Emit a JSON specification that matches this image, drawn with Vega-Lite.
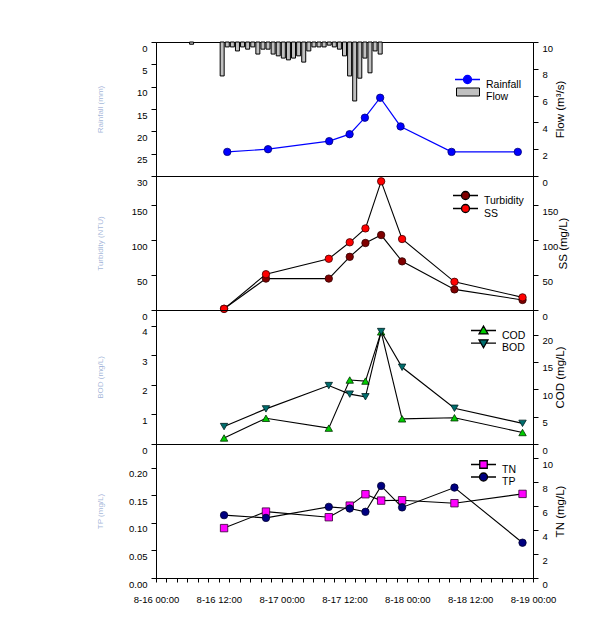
{
  "$schema": "https://vega.github.io/schema/vega-lite/v6.json",
  "padding": {"left": 95, "top": 41, "right": 5, "bottom": 5},
  "background": "white",
  "bounds": "flush",
  "spacing": 0,
  "config": {
    "view": {"stroke": "black", "strokeWidth": 1},
    "axis": {"grid": false, "domainColor": "black", "tickColor": "black", "labelColor": "black", "labelFont": "Liberation Sans", "titleFont": "Liberation Sans", "labelFontSize": 9.5, "titleFontWeight": "normal", "tickSize": 5, "titleFontSize": 11.5, "labelOverlap": false, "labelBound": false},
    "legend": {"labelFont": "Liberation Sans", "labelFontSize": 10.5, "labelColor": "black"}
  },
  "datasets": {
    "wq": [
      {"t": "2020-08-16T13:00", "flow": 1.8, "turb": 1.7, "ss": 1.7, "cod": 1.1, "bod": 0.59, "tn": 4.17, "tp": 0.114},
      {"t": "2020-08-16T21:00", "flow": 2.0, "turb": 45, "ss": 51.3, "cod": 4.7, "bod": 1.19, "tn": 5.55, "tp": 0.109},
      {"t": "2020-08-17T09:00", "flow": 2.6, "turb": 45, "ss": 73.4, "cod": 2.9, "bod": 1.98, "tn": 5.08, "tp": 0.129},
      {"t": "2020-08-17T13:00", "flow": 3.12, "turb": 76.2, "ss": 97, "cod": 11.7, "bod": 1.69, "tn": 6.05, "tp": 0.126},
      {"t": "2020-08-17T16:00", "flow": 4.35, "turb": 96, "ss": 116.9, "cod": 11.5, "bod": 1.6, "tn": 7.0, "tp": 0.12},
      {"t": "2020-08-17T19:00", "flow": 5.84, "turb": 107.4, "ss": 184.4, "cod": 20.5, "bod": 3.81, "tn": 6.47, "tp": 0.167},
      {"t": "2020-08-17T23:00", "flow": 3.7, "turb": 69.7, "ss": 101.7, "cod": 4.6, "bod": 2.6, "tn": 6.5, "tp": 0.128},
      {"t": "2020-08-18T09:00", "flow": 1.8, "turb": 29.5, "ss": 40.4, "cod": 4.8, "bod": 1.21, "tn": 6.25, "tp": 0.164},
      {"t": "2020-08-18T22:00", "flow": 1.8, "turb": 14.4, "ss": 18.1, "cod": 2.1, "bod": 0.7, "tn": 7.03, "tp": 0.064}
    ],
    "rain": [
      {"t": "2020-08-16T06:00", "rain": 0.5},
      {"t": "2020-08-16T12:00", "rain": 7.6},
      {"t": "2020-08-16T13:00", "rain": 1.1},
      {"t": "2020-08-16T14:00", "rain": 1.1},
      {"t": "2020-08-16T15:00", "rain": 2.0},
      {"t": "2020-08-16T16:00", "rain": 1.1},
      {"t": "2020-08-16T17:00", "rain": 1.6},
      {"t": "2020-08-16T18:00", "rain": 1.1},
      {"t": "2020-08-16T19:00", "rain": 2.7},
      {"t": "2020-08-16T20:00", "rain": 1.6},
      {"t": "2020-08-16T21:00", "rain": 1.6},
      {"t": "2020-08-16T22:00", "rain": 2.7},
      {"t": "2020-08-16T23:00", "rain": 3.1},
      {"t": "2020-08-17T00:00", "rain": 3.6},
      {"t": "2020-08-17T01:00", "rain": 4.0},
      {"t": "2020-08-17T02:00", "rain": 3.6},
      {"t": "2020-08-17T03:00", "rain": 3.1},
      {"t": "2020-08-17T04:00", "rain": 4.5},
      {"t": "2020-08-17T05:00", "rain": 2.0},
      {"t": "2020-08-17T06:00", "rain": 1.1},
      {"t": "2020-08-17T07:00", "rain": 1.1},
      {"t": "2020-08-17T08:00", "rain": 1.1},
      {"t": "2020-08-17T09:00", "rain": 0.7},
      {"t": "2020-08-17T10:00", "rain": 1.1},
      {"t": "2020-08-17T11:00", "rain": 1.6},
      {"t": "2020-08-17T12:00", "rain": 3.1},
      {"t": "2020-08-17T13:00", "rain": 7.6},
      {"t": "2020-08-17T14:00", "rain": 13.2},
      {"t": "2020-08-17T15:00", "rain": 8.1},
      {"t": "2020-08-17T16:00", "rain": 3.6},
      {"t": "2020-08-17T17:00", "rain": 6.9},
      {"t": "2020-08-17T18:00", "rain": 2.0},
      {"t": "2020-08-17T19:00", "rain": 2.7}
    ]
  },
  "vconcat": [
    {
      "width": 377, "height": 134,
      "encoding": {"x": {"field": "t", "type": "temporal", "scale": {"domain": ["2020-08-16T00:00", "2020-08-19T00:00"]}, "axis": null}},
      "layer": [
        {
          "data": {"name": "rain"},
          "mark": {"type": "bar", "size": 4, "stroke": "black", "strokeWidth": 1},
          "encoding": {
            "y": {"field": "rain", "type": "quantitative", "scale": {"domain": [0, 30], "reverse": true, "nice": false},
              "axis": {"orient": "left", "values": [0, 5, 10, 15, 20, 25, 30], "format": "d", "tickCount": 50, "labelOverlap": false, "labelBaseline": "top", "labelOffset": 1, "labelPadding": 4, "title": "Rainfall (mm)", "titlePadding": 32, "titleColor": "#2a55a8", "titleOpacity": 0.45, "titleFontSize": 8}},
            "fill": {"datum": "Flow", "scale": {"range": ["#c0c0c0"]},
              "legend": {"orient": "none", "legendX": 299, "legendY": 37, "title": null, "padding": 0, "symbolType": "M-0.92,-0.32H0.92V0.32H-0.92Z", "symbolSize": 625, "labelBaseline": "top", "labelOffset": 5, "symbolStrokeWidth": 1, "symbolStrokeColor": "black"}}
          }
        },
        {
          "data": {"name": "wq"},
          "layer": [
            {"mark": {"type": "line", "color": "#0000ff", "strokeWidth": 1.2},
             "encoding": {"y": {"field": "flow", "type": "quantitative", "scale": {"domain": [0, 10], "nice": false},
               "axis": {"orient": "right", "values": [0, 2, 4, 6, 8, 10], "format": "d", "tickCount": 50, "labelOverlap": false, "labelBaseline": "top", "labelOffset": 1, "labelPadding": 4, "title": "Flow (m³/s)", "titlePadding": 2, "titleAngle": 270, "titleBaseline": "top"}}}},
            {"mark": {"type": "point", "filled": true, "size": 55, "stroke": "#00007a", "strokeWidth": 0.8, "opacity": 1},
             "encoding": {"y": {"field": "flow", "type": "quantitative"},
               "fill": {"datum": "Rainfall", "scale": {"range": ["#0000ff"]},
                 "legend": {"orient": "none", "legendX": 298, "legendY": 24, "title": null, "padding": 0, "symbolType": "M-1,0H-0.32M0.32,0H1M0.32,0A0.32,0.32,0,1,1,-0.32,0A0.32,0.32,0,1,1,0.32,0", "symbolSize": 625, "labelBaseline": "top", "labelOffset": 5, "symbolStrokeWidth": 1.3, "symbolStrokeColor": "#0000ff"}}}}
          ]
        }
      ],
      "resolve": {"scale": {"y": "independent", "fill": "independent"}, "legend": {"fill": "independent"}}
    },
    {
      "width": 377, "height": 134,
      "data": {"name": "wq"},
      "encoding": {"x": {"field": "t", "type": "temporal", "scale": {"domain": ["2020-08-16T00:00", "2020-08-19T00:00"]}, "axis": null}},
      "layer": [
        {"layer": [
          {"mark": {"type": "line", "color": "black", "strokeWidth": 1.1},
           "encoding": {"y": {"field": "turb", "type": "quantitative", "scale": {"domain": [0, 192], "nice": false},
             "axis": {"orient": "left", "values": [0, 50, 100, 150], "format": "d", "tickCount": 50, "labelOverlap": false, "labelBaseline": "top", "labelOffset": 1, "labelPadding": 4, "title": "Turbidity (NTU)", "titlePadding": 27, "titleColor": "#2a55a8", "titleOpacity": 0.45, "titleFontSize": 8}}}},
          {"mark": {"type": "point", "filled": true, "size": 55, "stroke": "#300000", "strokeWidth": 0.8, "opacity": 1},
           "encoding": {"y": {"field": "turb", "type": "quantitative"},
             "fill": {"datum": "Turbidity", "scale": {"range": ["#800000"]},
               "legend": {"orient": "none", "legendX": 296, "legendY": 6, "title": null, "padding": 0, "symbolType": "M-1,0H-0.32M0.32,0H1M0.32,0A0.32,0.32,0,1,1,-0.32,0A0.32,0.32,0,1,1,0.32,0", "symbolSize": 625, "labelBaseline": "top", "labelOffset": 5, "symbolStrokeWidth": 1.3, "symbolStrokeColor": "black"}}}}
        ]},
        {"layer": [
          {"mark": {"type": "line", "color": "black", "strokeWidth": 1.1},
           "encoding": {"y": {"field": "ss", "type": "quantitative", "scale": {"domain": [0, 192], "nice": false},
             "axis": {"orient": "right", "values": [0, 50, 100, 150], "format": "d", "tickCount": 50, "labelOverlap": false, "labelBaseline": "top", "labelOffset": 1, "labelPadding": 4, "title": "SS (mg/L)", "titlePadding": 0, "titleAngle": 270, "titleBaseline": "top"}}}},
          {"mark": {"type": "point", "filled": true, "size": 55, "stroke": "#400000", "strokeWidth": 0.8, "opacity": 1},
           "encoding": {"y": {"field": "ss", "type": "quantitative"},
             "fill": {"datum": "SS", "scale": {"range": ["#ff0000"]},
               "legend": {"orient": "none", "legendX": 296, "legendY": 19, "title": null, "padding": 0, "symbolType": "M-1,0H-0.32M0.32,0H1M0.32,0A0.32,0.32,0,1,1,-0.32,0A0.32,0.32,0,1,1,0.32,0", "symbolSize": 625, "labelBaseline": "top", "labelOffset": 5, "symbolStrokeWidth": 1.3, "symbolStrokeColor": "black"}}}}
        ]}
      ],
      "resolve": {"scale": {"y": "independent", "fill": "independent"}, "legend": {"fill": "independent"}}
    },
    {
      "width": 377, "height": 134,
      "data": {"name": "wq"},
      "encoding": {"x": {"field": "t", "type": "temporal", "scale": {"domain": ["2020-08-16T00:00", "2020-08-19T00:00"]}, "axis": null}},
      "layer": [
        {"layer": [
          {"mark": {"type": "line", "color": "black", "strokeWidth": 1.1},
           "encoding": {"y": {"field": "cod", "type": "quantitative", "scale": {"domain": [0, 24.5], "nice": false},
             "axis": {"orient": "right", "values": [0, 5, 10, 15, 20], "format": "d", "tickCount": 50, "labelOverlap": false, "labelBaseline": "top", "labelOffset": 1, "labelPadding": 4, "title": "COD (mg/L)", "titlePadding": 2, "titleAngle": 270, "titleBaseline": "top"}}}},
          {"mark": {"type": "point", "shape": "triangle-up", "filled": true, "size": 55, "stroke": "#003000", "strokeWidth": 0.8, "opacity": 1},
           "encoding": {"y": {"field": "cod", "type": "quantitative"},
             "fill": {"datum": "COD", "scale": {"range": ["#00cc00"]},
               "legend": {"orient": "none", "legendX": 314, "legendY": 7, "title": null, "padding": 0, "symbolType": "M-1,0H-0.2M0.2,0H1M0,-0.36L0.36,0.27L-0.36,0.27Z", "symbolSize": 625, "labelBaseline": "top", "labelOffset": 5, "symbolStrokeWidth": 1.3, "symbolStrokeColor": "black"}}}}
        ]},
        {"layer": [
          {"mark": {"type": "line", "color": "black", "strokeWidth": 1.1},
           "encoding": {"y": {"field": "bod", "type": "quantitative", "scale": {"domain": [0, 4.54], "nice": false},
             "axis": {"orient": "left", "values": [0, 1, 2, 3, 4], "format": "d", "tickCount": 50, "labelOverlap": false, "labelBaseline": "top", "labelOffset": 1, "labelPadding": 4, "title": "BOD (mg/L)", "titlePadding": 37, "titleColor": "#2a55a8", "titleOpacity": 0.45, "titleFontSize": 8}}}},
          {"mark": {"type": "point", "shape": "triangle-down", "filled": true, "size": 55, "stroke": "#002020", "strokeWidth": 0.8, "opacity": 1},
           "encoding": {"y": {"field": "bod", "type": "quantitative"},
             "fill": {"datum": "BOD", "scale": {"range": ["#006e6e"]},
               "legend": {"orient": "none", "legendX": 314, "legendY": 19.7, "title": null, "padding": 0, "symbolType": "M-1,0H-0.2M0.2,0H1M0,0.36L0.36,-0.27L-0.36,-0.27Z", "symbolSize": 625, "labelBaseline": "top", "labelOffset": 5, "symbolStrokeWidth": 1.3, "symbolStrokeColor": "black"}}}}
        ]}
      ],
      "resolve": {"scale": {"y": "independent", "fill": "independent"}, "legend": {"fill": "independent"}}
    },
    {
      "width": 377, "height": 134,
      "data": {"name": "wq"},
      "encoding": {"x": {"field": "t", "type": "temporal", "scale": {"domain": ["2020-08-16T00:00", "2020-08-19T00:00"]},
        "axis": {"values": ["2020-08-16T00:00", "2020-08-16T02:00", "2020-08-16T04:00", "2020-08-16T06:00", "2020-08-16T08:00", "2020-08-16T10:00", "2020-08-16T12:00", "2020-08-16T14:00", "2020-08-16T16:00", "2020-08-16T18:00", "2020-08-16T20:00", "2020-08-16T22:00", "2020-08-17T00:00", "2020-08-17T02:00", "2020-08-17T04:00", "2020-08-17T06:00", "2020-08-17T08:00", "2020-08-17T10:00", "2020-08-17T12:00", "2020-08-17T14:00", "2020-08-17T16:00", "2020-08-17T18:00", "2020-08-17T20:00", "2020-08-17T22:00", "2020-08-18T00:00", "2020-08-18T02:00", "2020-08-18T04:00", "2020-08-18T06:00", "2020-08-18T08:00", "2020-08-18T10:00", "2020-08-18T12:00", "2020-08-18T14:00", "2020-08-18T16:00", "2020-08-18T18:00", "2020-08-18T20:00", "2020-08-18T22:00", "2020-08-19T00:00"],
          "tickCount": 100, "labelExpr": "hours(datum.value) % 12 === 0 ? timeFormat(datum.value, '%-m-%d %H:%M') : ''", "tickSize": 4, "labelFlush": false, "labelOverlap": false, "title": null, "labelPadding": 12, "labelFontSize": 9.5}}},
      "layer": [
        {"layer": [
          {"mark": {"type": "line", "color": "black", "strokeWidth": 1.1},
           "encoding": {"y": {"field": "tn", "type": "quantitative", "scale": {"domain": [0, 11.2], "nice": false},
             "axis": {"orient": "right", "values": [0, 2, 4, 6, 8, 10], "format": "d", "tickCount": 50, "labelOverlap": false, "labelBaseline": "top", "labelOffset": 1, "labelPadding": 4, "title": "TN (mg/L)", "titlePadding": 2, "titleAngle": 270, "titleBaseline": "top"}}}},
          {"mark": {"type": "point", "shape": "square", "filled": true, "size": 55, "stroke": "#300030", "strokeWidth": 0.8, "opacity": 1},
           "encoding": {"y": {"field": "tn", "type": "quantitative"},
             "fill": {"datum": "TN", "scale": {"range": ["#ff00ff"]},
               "legend": {"orient": "none", "legendX": 314, "legendY": 7, "title": null, "padding": 0, "symbolType": "M-1,0H-0.3M0.3,0H1M-0.3,-0.3H0.3V0.3H-0.3Z", "symbolSize": 625, "labelBaseline": "top", "labelOffset": 5, "symbolStrokeWidth": 1.3, "symbolStrokeColor": "black"}}}}
        ]},
        {"layer": [
          {"mark": {"type": "line", "color": "black", "strokeWidth": 1.1},
           "encoding": {"y": {"field": "tp", "type": "quantitative", "scale": {"domain": [0, 0.243], "nice": false},
             "axis": {"orient": "left", "values": [0, 0.05, 0.1, 0.15, 0.2], "tickCount": 50, "labelOverlap": false, "format": ".2f", "labelBaseline": "top", "labelOffset": 1, "labelPadding": 4, "title": "TP (mg/L)", "titlePadding": 24, "titleColor": "#2a55a8", "titleOpacity": 0.45, "titleFontSize": 8}}}},
          {"mark": {"type": "point", "shape": "circle", "filled": true, "size": 55, "stroke": "#000030", "strokeWidth": 0.8, "opacity": 1},
           "encoding": {"y": {"field": "tp", "type": "quantitative"},
             "fill": {"datum": "TP", "scale": {"range": ["#000080"]},
               "legend": {"orient": "none", "legendX": 314, "legendY": 19.5, "title": null, "padding": 0, "symbolType": "M-1,0H-0.32M0.32,0H1M0.32,0A0.32,0.32,0,1,1,-0.32,0A0.32,0.32,0,1,1,0.32,0", "symbolSize": 625, "labelBaseline": "top", "labelOffset": 5, "symbolStrokeWidth": 1.3, "symbolStrokeColor": "black"}}}}
        ]}
      ],
      "resolve": {"scale": {"y": "independent", "fill": "independent"}, "legend": {"fill": "independent"}}
    }
  ]
}
